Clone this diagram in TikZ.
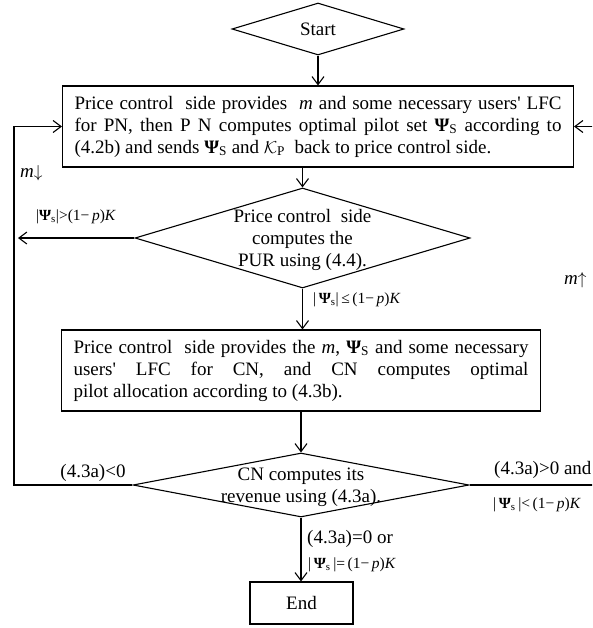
\documentclass[tikz,border=0pt]{standalone}
\usepackage{fontspec}
\setmainfont{Liberation Serif}
\usetikzlibrary{shapes.geometric,arrows.meta}

\newcommand{\PsiS}{\textbf{Ψ}\textsubscript{S}}
\newcommand{\Psis}{\textbf{Ψ}\textsubscript{s}}

\tikzset{
  big/.style={font=\fontsize{19}{22}\selectfont},
  small/.style={font=\fontsize{15.5}{18}\selectfont, inner sep=0pt},
  lbl/.style={big, inner sep=0pt},
  procbox/.style={draw, line width=1.1pt, rectangle, align=justify,
    inner xsep=12pt, inner ysep=0pt, big},
  decision/.style={draw, line width=1.1pt, diamond, aspect=3, inner sep=0pt},
  dtext/.style={big, align=center, inner sep=0pt},
  flow/.style={line width=1.1pt, -{Straight Barb[length=8pt,width=12pt]}},
}

\begin{document}
\begin{tikzpicture}[x=1pt,y=-1pt]
\clip (0,0) rectangle (592,628);

% loop columns
\coordinate (lcol) at (14,0);
\coordinate (rcol) at (600,0);
\coordinate (d2out) at (18,238);

% start
\node[decision, minimum width=172pt, minimum height=52pt, big] (start) at (318,29) {Start};

% first processing step
\node[procbox, text width=487pt, minimum height=81pt] (box1) at (318,126.5)
  {Price control~ side provides~ \textit{m} and some necessary users\textquotesingle{} LFC\linebreak
   for PN, then P N computes optimal pilot set \PsiS{} according to\linebreak
   (4.2b) and sends \PsiS{} and $\mathcal{K}_{\mathrm{P}}$~ back to price control side.};

% PUR decision
\node[decision, minimum width=335pt, minimum height=100pt] (d2) at (302.5,238) {};
\node[dtext] (d2t) at (302.5,240) {Price control~ side\\computes the\\PUR using (4.4).};

% second processing step
\node[procbox, text width=455pt, minimum height=81pt] (box2) at (301,370.5)
  {Price control~ side provides the \textit{m}, \PsiS{} and some necessary\linebreak
   users\textquotesingle{} LFC for CN, and CN computes optimal\linebreak
   pilot allocation according to (4.3b).};

% revenue decision
\node[decision, minimum width=336pt, minimum height=64pt] (d3) at (301,485) {};
\node[dtext] (d3t) at (301,487) {CN computes its\\revenue using (4.3a).};

% end
\node[draw, line width=1.1pt, minimum width=103pt, minimum height=42pt, big] (end) at (301.5,603) {End};

% main flow
\draw[flow] (start.south) -- (start.south |- box1.north);
\draw[flow] (d2.north |- box1.south) -- (d2.north);
\draw[flow] (d2.south) -- (d2.south |- box2.north);
\draw[flow] (d3.north |- box2.south) -- (d3.north);
\draw[flow] (d3.south) -- (d3.south |- end.north);

% branches
\draw[flow] (d2.west) -- (d2out);
\draw[flow] (d3.west) -- (d3.west -| lcol) |- (box1.west);
\draw[flow] (d3.east) -- (d3.east -| rcol) |- (box1.east);

% branch labels
\node[lbl, anchor=west] (mdown) at (20,173) {\textit{m}$\downarrow$};
\node[lbl, anchor=west] (mup) at (564,280) {\textit{m}$\uparrow$};
\node[small] (c1) at (76,217) {|\Psis|>(1−\,\textit{p})\textit{K}};
\node[small, anchor=west] (c2) at (313,300) {|\,\Psis|\,≤\,(1−\,\textit{p})\textit{K}};
\node[lbl] (c3) at (93,473) {(4.3a)<0};
\node[lbl, anchor=west] (c4) at (494,470) {(4.3a)>0 and};
\node[small, anchor=west] (c5) at (493,505) {|\,\Psis\,|<\,(1−\,\textit{p})\textit{K}};
\node[lbl, anchor=west] (c6) at (307,539) {(4.3a)=0 or};
\node[small, anchor=west] (c7) at (308,565) {|\,\Psis\,|=\,(1−\,\textit{p})\textit{K}};
\end{tikzpicture}
\end{document}
